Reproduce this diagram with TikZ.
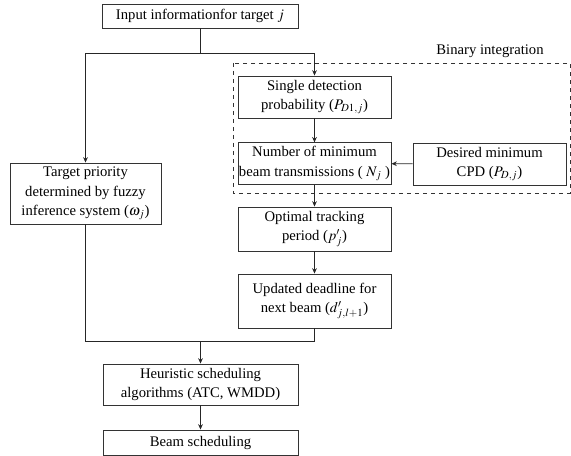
\documentclass[tikz,border=0pt]{standalone}
\usepackage{mathptmx}
\usepackage{fontspec}
\setmainfont{Liberation Serif}
\usetikzlibrary{arrows.meta}
\tikzset{
  blk/.style={draw=black!80, line width=0.7pt, align=center, inner sep=0pt,
    font=\fontsize{11}{14.5}\selectfont},
  flow/.style={draw=black!85, line width=0.7pt},
  arr/.style={flow, -{Stealth[length=4pt,width=3.5pt]}}
}
\begin{document}
\begin{tikzpicture}[x=0.75pt,y=-0.75pt]
  \useasboundingbox (0,0) rectangle (571,456);

  % Binary integration frame
  \draw[dashed, draw=black!80, line width=0.6pt] (233,63) rectangle (570,193);
  \node[font=\fontsize{11}{14.5}\selectfont] (binlabel) at (490,51) {Binary integration};

  % Boxes
  \node[blk, minimum width=147pt, minimum height=18pt] (input) at (200,16) {Input informationfor target $j$};
  \node[blk, minimum width=113.25pt, minimum height=45.75pt] (target) at (85.5,193.5)
    {Target priority\\determined by fuzzy\\inference system ($\omega_j$)};
  \node[blk, minimum width=114.75pt, minimum height=31.5pt] (single) at (314.5,97)
    {Single detection\\probability ($P_{D1,j}$)};
  \node[blk, minimum width=114.75pt, minimum height=31pt] (number) at (314.5,163.5)
    {Number of minimum\\beam transmissions ( $N_j$ )};
  \node[blk, minimum width=114.75pt, minimum height=31.5pt] (desired) at (489.5,164)
    {Desired minimum\\CPD ($P_{D,j}$)};
  \node[blk, minimum width=114.75pt, minimum height=33pt] (optimal) at (314.5,229)
    {Optimal tracking\\period ($p'_j$)};
  \node[blk, minimum width=114.75pt, minimum height=40.5pt] (updated) at (314.5,301)
    {Updated deadline for\\next beam ($d'_{j,l+1}$)};
  \node[blk, minimum width=146.25pt, minimum height=30.75pt] (heuristic) at (200.5,384.5)
    {Heuristic scheduling\\algorithms (ATC, WMDD)};
  \node[blk, minimum width=146.25pt, minimum height=18.75pt] (beam) at (200.5,442.5)
    {Beam scheduling};

  % Split and merge points
  \coordinate (split) at (200,53);
  \coordinate (merge) at (200.5,341);

  % Connectors
  \draw[flow] (input) -- (split);
  \draw[arr] (split) -| (target);
  \draw[arr] (split) -| (single);
  \draw[arr] (single) -- (number);
  \draw[arr] (desired) -- (number);
  \draw[arr] (number) -- (optimal);
  \draw[arr] (optimal) -- (updated);
  \draw[flow] (target) |- (merge);
  \draw[flow] (updated) |- (merge);
  \draw[arr] (merge) -- (heuristic);
  \draw[arr] (heuristic) -- (beam);
\end{tikzpicture}
\end{document}
